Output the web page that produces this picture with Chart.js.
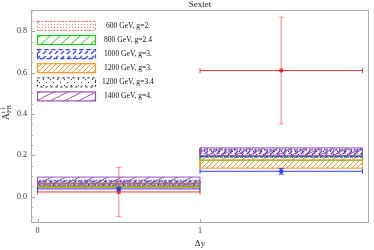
<!DOCTYPE html>
<html>
<head>
<meta charset="utf-8">
<script src="https://cdn.jsdelivr.net/npm/chart.js@4.4.0/dist/chart.umd.min.js"></script>
<style>
  html, body { margin: 0; padding: 0; background: #fff; }
  #wrap { width: 374px; height: 250px; }
</style>
</head>
<body>
<div id="wrap"><canvas id="c" width="374" height="250"></canvas></div>
<script>
// legend labels of the sextet models
const models = ['600 GeV, g=2.', '800 GeV, g=2.4', '1000 GeV, g=3.', '1200 GeV, g=3.', '1200 GeV, g=3.4', '1400 GeV, g=4.'];
// delta y bins
const binEdges = [0, 1, 2];
// model bands, lower / upper edge in each bin
const bin1Lo = [0.045, 0.050, 0.055, 0.045, 0.056, 0.062];
const bin1Hi = [0.062, 0.066, 0.076, 0.066, 0.080, 0.095];
const bin2Lo = [0.190, 0.176, 0.192, 0.138, 0.196, 0.200];
const bin2Hi = [0.222, 0.196, 0.226, 0.178, 0.230, 0.236];
// measurement (red) and SM (blue) with errors
const dataVal = [0.023, 0.61];
const dataErr = [0.119, 0.258];
const smVal = [0.038, 0.123];
const smErr = [0.006, 0.014];
// tick labels
const yTicks = [0, 0.2, 0.4, 0.6, 0.8];
const xTicks = [0, 1];

const serif = '"Liberation Serif", "DejaVu Serif", serif';

const bandStyles = [
  {color: '#ff7a7a', kind: 'dots', dash: [1, 1]},
  {color: '#1ecc1e', kind: 'hatch', dash: []},
  {color: '#3040ff', kind: 'hatchDash', dash: [3, 2]},
  {color: '#ff9428', kind: 'hatchFine', dash: []},
  {color: '#333333', kind: 'sparse', dash: [1, 2]},
  {color: '#9b50b8', kind: 'hatchFlat', dash: []}
];

function makePattern(kind, color) {
  const c = document.createElement('canvas');
  let w = 6, h = 6;
  if (kind === 'dots') { w = 3; h = 3; }
  if (kind === 'sparse') { w = 7; h = 6; }
  if (kind === 'hatch') { w = 10; h = 9; }
  if (kind === 'hatchFine') { w = 5; h = 5; }
  if (kind === 'hatchDash') { w = 6; h = 5; }
  if (kind === 'hatchFlat') { w = 14; h = 7; }
  c.width = w; c.height = h;
  const g = c.getContext('2d');
  g.strokeStyle = color; g.fillStyle = color; g.lineWidth = 1;
  if (kind === 'dots') {
    g.fillRect(0, 0, 1, 1);
  } else if (kind === 'sparse') {
    g.fillRect(1, 1, 1, 1); g.fillRect(4, 4, 1, 1);
  } else if (kind === 'hatchDash') {
    g.lineWidth = 1.3;
    g.beginPath(); g.moveTo(1, 4); g.lineTo(4, 1); g.stroke();
  } else {
    for (const off of [-w, 0, w]) {
      g.beginPath(); g.moveTo(off, h); g.lineTo(off + w, 0); g.stroke();
    }
  }
  return g.createPattern(c, 'repeat');
}

function rect(x0, x1, lo, hi) {
  return [{x: x0, y: lo}, {x: x1, y: lo}, {x: x1, y: hi}, {x: x0, y: hi}, {x: x0, y: lo}];
}

const patterns = bandStyles.map(s => makePattern(s.kind, s.color));
const datasets = [];

models.forEach((m, i) => {
  const st = bandStyles[i];
  [[bin1Lo[i], bin1Hi[i]], [bin2Lo[i], bin2Hi[i]]].forEach(([lo, hi], b) => {
    datasets.push({
      label: m,
      data: rect(binEdges[b], binEdges[b + 1], lo, hi),
      borderColor: st.color,
      borderWidth: 1,
      borderDash: st.dash,
      backgroundColor: patterns[i],
      fill: 'shape',
      pointRadius: 0,
      tension: 0,
      order: 30 - i
    });
  });
});

function errBars(vals, errs, color, vColor, ord) {
  vals.forEach((v, b) => {
    const cx = (binEdges[b] + binEdges[b + 1]) / 2;
    datasets.push({
      data: [{x: binEdges[b], y: v}, {x: binEdges[b + 1], y: v}],
      borderColor: color, borderWidth: 1, fill: false,
      pointStyle: 'line', pointRadius: 2.5, pointRotation: 90,
      pointBorderColor: color, pointBorderWidth: 1, order: ord + 2
    });
    datasets.push({
      data: [{x: cx, y: v - errs[b]}, {x: cx, y: v + errs[b]}],
      borderColor: vColor, borderWidth: 1.2, fill: false,
      pointStyle: 'line', pointRadius: 2.5, pointRotation: 0,
      pointBorderColor: vColor, pointBorderWidth: 1, order: ord + 1
    });
    datasets.push({
      data: [{x: cx, y: v}], showLine: false,
      pointStyle: 'rect', pointRadius: 2,
      pointBackgroundColor: color, pointBorderColor: color, order: ord
    });
  });
}
errBars(dataVal, dataErr, 'rgba(255,30,30,0.9)', 'rgba(255,60,60,0.55)', 6);
errBars(smVal, smErr, '#2a3cff', '#2a3cff', 0);

const framePlugin = {
  id: 'frame',
  afterDraw(chart) {
    const {ctx, chartArea: a, scales: {x, y}} = chart;
    ctx.save();
    ctx.strokeStyle = '#a8a8a8';
    ctx.lineWidth = 1;
    ctx.strokeRect(a.left + 0.5, a.top + 0.5, a.right - a.left - 1, a.bottom - a.top - 1);

    // inward ticks
    ctx.beginPath();
    for (let k = -2; k <= 18; k++) {
      const v = k * 0.05;
      const py = Math.round(y.getPixelForValue(v)) + 0.5;
      if (py < a.top || py > a.bottom) continue;
      const len = (k % 4 === 0) ? 4 : 2;
      ctx.moveTo(a.left, py); ctx.lineTo(a.left + len, py);
    }
    xTicks.forEach(v => {
      const px = Math.round(x.getPixelForValue(v)) + 0.5;
      ctx.moveTo(px, a.bottom); ctx.lineTo(px, a.bottom - 4);
    });
    ctx.stroke();

    // legend
    const lx = a.left + 6, lw = 59, lh = 10;
    models.forEach((m, i) => {
      const st = bandStyles[i];
      const ly = a.top + 11 + i * 14.1;
      ctx.fillStyle = patterns[i];
      ctx.fillRect(lx, ly, lw, lh);
      ctx.strokeStyle = st.color;
      ctx.lineWidth = 1.2;
      ctx.setLineDash(st.dash.length ? st.dash.map(d => d + 1) : []);
      ctx.strokeRect(lx + 0.5, ly + 0.5, lw - 1, lh - 1);
      ctx.setLineDash([]);
      ctx.fillStyle = '#111';
      ctx.font = '7.6px ' + serif;
      ctx.textAlign = 'center';
      ctx.textBaseline = 'middle';
      ctx.fillText(m, 128, ly + lh / 2);
    });

    // y axis label A_FB^{t tbar}
    ctx.translate(9, 112);
    ctx.rotate(-Math.PI / 2);
    ctx.fillStyle = '#222';
    ctx.textAlign = 'left';
    ctx.textBaseline = 'alphabetic';
    ctx.font = '9.5px ' + serif;
    ctx.fillText('A', -8, 0);
    ctx.font = '6.5px ' + serif;
    ctx.fillText('FB', -1, 2);
    ctx.fillText('t t\u0304', -1, -4.5);
    ctx.restore();
  }
};

new Chart(document.getElementById('c'), {
  type: 'line',
  data: {datasets},
  options: {
    responsive: false,
    animation: false,
    events: [],
    layout: {padding: {top: 0, right: 1, left: 0, bottom: 0}},
    plugins: {
      legend: {display: false},
      tooltip: {enabled: false},
      title: {
        display: true, text: 'Sextet', color: '#222', fullSize: false,
        font: {family: serif, size: 9, weight: 'normal', lineHeight: 1.1},
        padding: 0
      }
    },
    scales: {
      x: {
        type: 'linear', min: -0.04, max: 2.04, offset: false,
        afterFit(s) { s.height = 27; },
        afterBuildTicks(s) { s.ticks = xTicks.map(v => ({value: v})); },
        grid: {display: false, drawTicks: false},
        border: {display: false},
        ticks: {
          color: '#333', padding: 3, maxRotation: 0,
          font: {family: serif, size: 8},
          callback: v => String(v)
        },
        title: {
          display: true, text: '\u0394y', color: '#222',
          font: {family: serif, size: 9}, padding: {top: 0, bottom: 0.5}
        }
      },
      y: {
        type: 'linear', min: -0.127, max: 0.903,
        afterFit(s) { s.width = 31; },
        afterBuildTicks(s) { s.ticks = yTicks.map(v => ({value: v})); },
        grid: {display: false, drawTicks: false},
        border: {display: false},
        ticks: {
          color: '#333', padding: 4,
          font: {family: serif, size: 8},
          callback: v => v.toFixed(1)
        }
      }
    }
  },
  plugins: [framePlugin]
});
</script>
</body>
</html>
